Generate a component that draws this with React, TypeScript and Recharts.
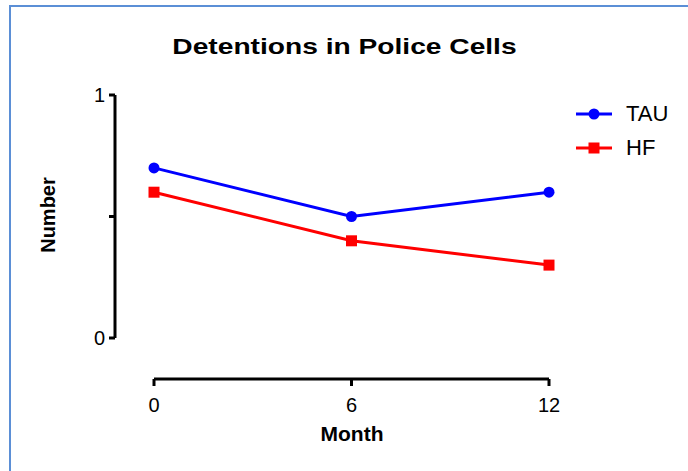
import { LineChart, Line, XAxis, YAxis, ReferenceLine, Legend } from 'recharts';

const months = [0, 6, 12];
const tauValues = [0.7, 0.5, 0.6];
const hfValues = [0.6, 0.4, 0.3];
const yTicks = [0, 0.5, 1];
const seriesOrder = ['TAU', 'HF'];

const data = months.map((m, i) => ({ month: m, TAU: tauValues[i], HF: hfValues[i] }));

// axes are drawn offset from the plot corner (Prism style)
const X_MIN = -1.185;
const Y_MIN = -0.1687;
const FONT = '"Liberation Sans", Arial, sans-serif';

const SquareDot = (props: any) => {
  const { cx, cy } = props;
  if (cx == null || cy == null) return null;
  return <rect x={cx - 5.5} y={cy - 5.5} width={11} height={11} fill="#ff0000" />;
};

const XTick = (props: any) => {
  const { x, y, payload } = props;
  return (
    <text x={x} y={y + 17} textAnchor="middle" fontFamily={FONT} fontSize={20} fill="#000">
      {payload.value}
    </text>
  );
};

const YTick = (props: any) => {
  const { x, y, payload } = props;
  if (payload.value === 0.5) return null;
  return (
    <text x={x} y={y + 7} textAnchor="end" fontFamily={FONT} fontSize={20} fill="#000">
      {payload.value}
    </text>
  );
};

const LegendContent = (props: any) => {
  const items = [...(props.payload || [])].sort(
    (a: any, b: any) => seriesOrder.indexOf(a.value) - seriesOrder.indexOf(b.value)
  );
  return (
    <div>
      {items.map((it: any) => (
        <div key={it.value} style={{ display: 'flex', alignItems: 'center', height: 34 }}>
          <svg width={40} height={16}>
            <line x1={2} y1={8} x2={38} y2={8} stroke={it.color} strokeWidth={3} />
            {it.value === 'TAU' ? (
              <circle cx={20} cy={8} r={5.5} fill={it.color} />
            ) : (
              <rect x={14.5} y={2.5} width={11} height={11} fill={it.color} />
            )}
          </svg>
          <span style={{ fontFamily: FONT, fontSize: 22, marginLeft: 12, color: '#000' }}>{it.value}</span>
        </div>
      ))}
    </div>
  );
};

export default function App() {
  return (
    <div style={{ position: 'absolute', left: 0, top: 0, width: 688, height: 471, background: '#fff' }}>
      <div style={{ position: 'absolute', left: 9, top: 5, right: 0, height: 2, background: '#5b8fd6' }} />
      <div style={{ position: 'absolute', left: 9, top: 5, bottom: 0, width: 2, background: '#5b8fd6' }} />
      <div style={{ position: 'absolute', left: 0, width: 688, top: 34, textAlign: 'center' }}>
        <span style={{ display: 'inline-block', transform: 'scaleX(1.28)', fontFamily: FONT, fontWeight: 'bold', fontSize: 22 }}>
          Detentions in Police Cells
        </span>
      </div>
      <div style={{ position: 'absolute', left: 252, width: 200, top: 422, textAlign: 'center', fontFamily: FONT, fontWeight: 'bold', fontSize: 21 }}>
        Month
      </div>
      <div style={{ position: 'absolute', left: 48, top: 215, width: 0, height: 0 }}>
        <div style={{ position: 'absolute', transform: 'translate(-50%, -50%) rotate(-90deg)', fontFamily: FONT, fontWeight: 'bold', fontSize: 20, whiteSpace: 'nowrap' }}>
          Number
        </div>
      </div>
      <div style={{ position: 'absolute', left: 0, top: 0 }}>
        <LineChart width={688} height={471} data={data} margin={{ top: 95, right: 29, bottom: 52, left: 55 }}>
          <XAxis
            dataKey="month"
            type="number"
            domain={[X_MIN, 12]}
            ticks={months}
            interval={0}
            axisLine={false}
            tickLine={{ stroke: '#000', strokeWidth: 3 }}
            tickSize={7}
            tickMargin={9}
            height={40}
            tick={<XTick />}
          />
          <YAxis
            type="number"
            domain={[Y_MIN, 1]}
            ticks={yTicks}
            interval={0}
            width={60}
            axisLine={false}
            tickLine={{ stroke: '#000', strokeWidth: 3 }}
            tickSize={6}
            tickMargin={4}
            tick={<YTick />}
          />
          <ReferenceLine
            segment={[{ x: X_MIN, y: 0 }, { x: X_MIN, y: 1 }]}
            stroke="#000"
            strokeWidth={3}
            ifOverflow="visible"
          />
          <ReferenceLine
            segment={[{ x: 0, y: Y_MIN }, { x: 12, y: Y_MIN }]}
            stroke="#000"
            strokeWidth={3}
            ifOverflow="visible"
          />
          <Line
            dataKey="TAU"
            stroke="#0000ff"
            strokeWidth={3}
            dot={{ r: 5.5, fill: '#0000ff', stroke: 'none' }}
            activeDot={false}
            isAnimationActive={false}
          />
          <Line
            dataKey="HF"
            stroke="#ff0000"
            strokeWidth={3}
            dot={<SquareDot />}
            activeDot={false}
            isAnimationActive={false}
          />
          <Legend
            layout="vertical"
            align="right"
            verticalAlign="top"
            content={<LegendContent />}
            wrapperStyle={{ position: 'absolute', left: 574, top: 97, width: 110 }}
          />
        </LineChart>
      </div>
    </div>
  );
}
